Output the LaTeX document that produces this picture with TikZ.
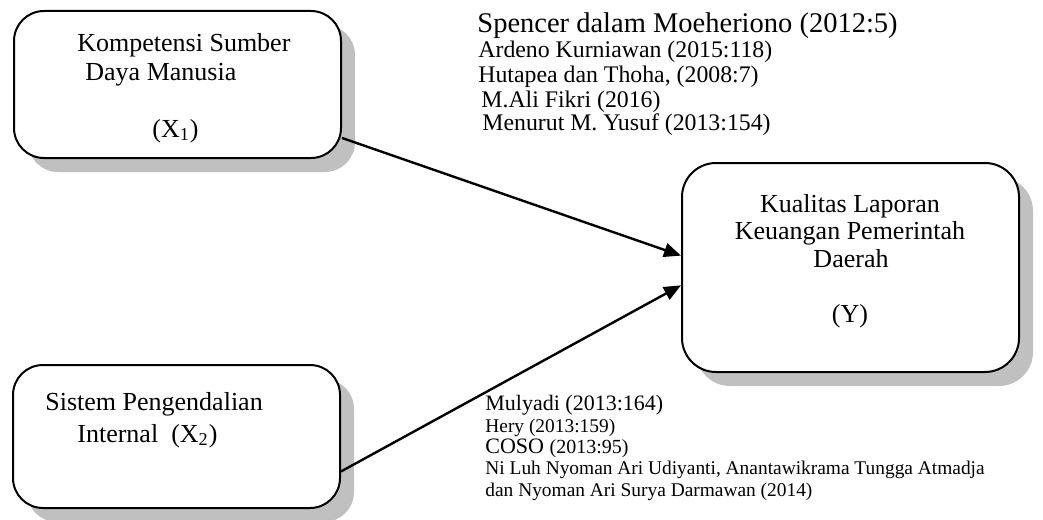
\documentclass[tikz,border=0pt]{standalone}
\usepackage{fontspec}
\setmainfont{Liberation Serif}
\usetikzlibrary{arrows.meta,shadows,calc}
\definecolor{shadowgray}{HTML}{C0C0C0}
\newcommand{\fs}[1]{\fontsize{#1}{#1}\selectfont}
\begin{document}
\begin{tikzpicture}[x=0.5pt,y=-0.5pt,
  varbox/.style={draw=black, line width=1pt, fill=white, rounded corners=15pt,
    inner sep=0pt,
    drop shadow={shadow xshift=7pt, shadow yshift=-7pt, fill=shadowgray, opacity=1}},
  lbl/.style={inner sep=0pt, anchor=base west},
  clbl/.style={inner sep=0pt, anchor=base},
  link/.style={line width=1.2pt, -{Triangle[length=8.5pt,width=7pt]}}
]
\useasboundingbox (0,0) rectangle (1043,519);
% boxes
\node[varbox, minimum width=163.5pt, minimum height=73.5pt] (b1) at (177.5,84.5) {};
\node[varbox, minimum width=163.5pt, minimum height=71.5pt] (b2) at (176.5,436.5) {};
\node[varbox, rounded corners=17pt, minimum width=168.5pt, minimum height=104.5pt] (y) at (850.5,267.5) {};
% box texts
\node[lbl, font=\fs{13}] (k1) at (77,52) {Kompetensi Sumber};
\node[lbl, font=\fs{13}] (k2) at (85,81) {Daya Manusia};
\node[lbl, font=\fs{13}] (k3) at (152,137) {(X\textsubscript{1})};
\node[lbl, font=\fs{13}] (s1) at (45,410) {Sistem Pengendalian};
\node[lbl, font=\fs{13}] (s2) at (77,442) {Internal~ (X\textsubscript{2})};
\node[clbl, font=\fs{13}] (y1) at (850,212) {Kualitas Laporan};
\node[clbl, font=\fs{13}] (y2) at (850,239) {Keuangan Pemerintah};
\node[clbl, font=\fs{13}] (y3) at (851,267) {Daerah};
\node[clbl, font=\fs{13}] (y4) at (850,322) {(Y)};
% top references
\node[lbl, font=\fs{14.25}] (r1) at (477,33) {Spencer dalam Moeheriono (2012:5)};
\node[lbl, font=\fs{11.9}] (r2) at (478,58) {Ardeno Kurniawan (2015:118)};
\node[lbl, font=\fs{11.9}] (r3) at (478,83) {Hutapea dan Thoha, (2008:7)};
\node[lbl, font=\fs{11.9}] (r4) at (481,107) {M.Ali Fikri (2016)};
\node[lbl, font=\fs{11.9}] (r5) at (482,131) {Menurut M. Yusuf (2013:154)};
% bottom references
\node[lbl, font=\fs{11}] (m1) at (485,410) {Mulyadi (2013:164)};
\node[lbl, font=\fs{9.7}] (m2) at (485,432) {Hery (2013:159)};
\node[lbl] (m3) at (485,453) {\fs{11}COSO \fs{10}(2013:95)};
\node[lbl, font=\fs{9.7}] (m4) at (485,474) {Ni Luh Nyoman Ari Udiyanti, Anantawikrama Tungga Atmadja};
\node[lbl, font=\fs{9.7}] (m5) at (485,496) {dan Nyoman Ari Surya Darmawan (2014)};
% connectors
\draw[link] (b1.-18.5) -- (y.176.8);
\draw[link] (b2.-12.8) -- (y.-174.5);
\end{tikzpicture}
\end{document}
